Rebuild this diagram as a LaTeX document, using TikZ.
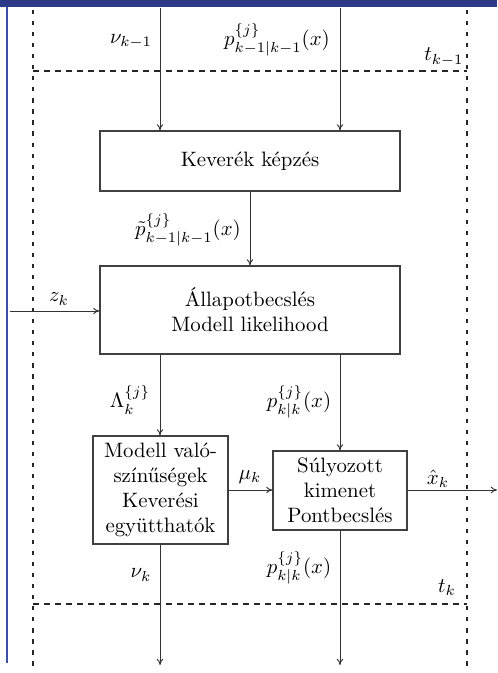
\documentclass[tikz,border=0pt]{standalone}
\usetikzlibrary{arrows.meta,calc}
\definecolor{barblue}{RGB}{44,58,135}
\definecolor{edgeblue}{RGB}{62,80,165}
\begin{document}
\begin{tikzpicture}[x=0.48pt,y=-0.48pt,
  blockbox/.style={draw=black!75,line width=0.6pt,align=center,inner sep=0pt,font=\normalsize},
  flow/.style={draw=black!80,line width=0.45pt,-{To[length=3pt,width=3.2pt]}},
  hsep/.style={draw=black!85,line width=0.9pt,dash pattern=on 2.9pt off 2.4pt},
  vsep/.style={draw=black!85,line width=0.9pt,dash pattern=on 2pt off 3.3pt},
  lbl/.style={inner sep=0pt}]
\useasboundingbox (0,0) rectangle (497,673);
% frame decoration
\fill[barblue] (0,0) rectangle (497,7);
\draw[edgeblue,line width=0.6pt] (7,7) -- (7,663);
% time-step separators
\draw[vsep] (33,10) -- (33,670);
\draw[vsep] (467,10) -- (467,670);
\draw[hsep] (33,71) -- (467,71);
\draw[hsep] (33,604) -- (467,604);
% blocks
\node[blockbox,minimum width=144pt,minimum height=28.8pt] (kev) at (250,161) {Keverék képzés};
\node[blockbox,minimum width=144pt,minimum height=42.2pt] (all) at (250,310) {Állapotbecslés\\Modell likelihood};
\node[blockbox,minimum width=64.8pt,minimum height=51.8pt] (mod) at (160.5,490) {Modell való-\\színűségek\\Keverési\\együtthatók};
\node[blockbox,minimum width=64.3pt,minimum height=37.9pt] (sul) at (340,490.5) {Súlyozott\\kimenet\\Pontbecslés};
% free ends
\coordinate (inA) at (160,8);
\coordinate (inB) at (340,8);
\coordinate (zin) at (10,311);
\coordinate (xout) at (497,490);
\coordinate (outA) at (160,665);
\coordinate (outB) at (340,665);
% connectors
\draw[flow] (inA) -- (inA |- kev.north);
\draw[flow] (inB) -- (inB |- kev.north);
\draw[flow] (kev.south) -- (all.north);
\draw[flow] (zin) -- (zin -| all.west);
\draw[flow] (inA |- all.south) -- (inA |- mod.north);
\draw[flow] (inB |- all.south) -- (inB |- sul.north);
\draw[flow] (mod.east |- xout) -- (sul.west |- xout);
\draw[flow] (sul.east |- xout) -- (xout);
\draw[flow] (inA |- mod.south) -- (outA);
\draw[flow] (inB |- sul.south) -- (outB);
% labels
\node[lbl] (lnu1) at (131,41) {$\nu_{k-1}$};
\node[lbl] (lp1) at (277,40) {$p^{\{j\}}_{k-1|k-1}(x)$};
\node[lbl] (lt1) at (444,57) {$t_{k-1}$};
\node[lbl] (lpt) at (188,230) {$\tilde{p}^{\{j\}}_{k-1|k-1}(x)$};
\node[lbl] (lz) at (59,299) {$z_k$};
\node[lbl] (lL) at (130,400) {$\Lambda^{\{j\}}_k$};
\node[lbl] (lp2) at (299,402) {$p^{\{j\}}_{k|k}(x)$};
\node[lbl] (lmu) at (250,477) {$\mu_k$};
\node[lbl] (lx) at (438,479) {$\hat{x}_k$};
\node[lbl] (lnu2) at (141,575) {$\nu_k$};
\node[lbl] (lp3) at (299,568) {$p^{\{j\}}_{k|k}(x)$};
\node[lbl] (lt2) at (447,588) {$t_k$};
\end{tikzpicture}
\end{document}
